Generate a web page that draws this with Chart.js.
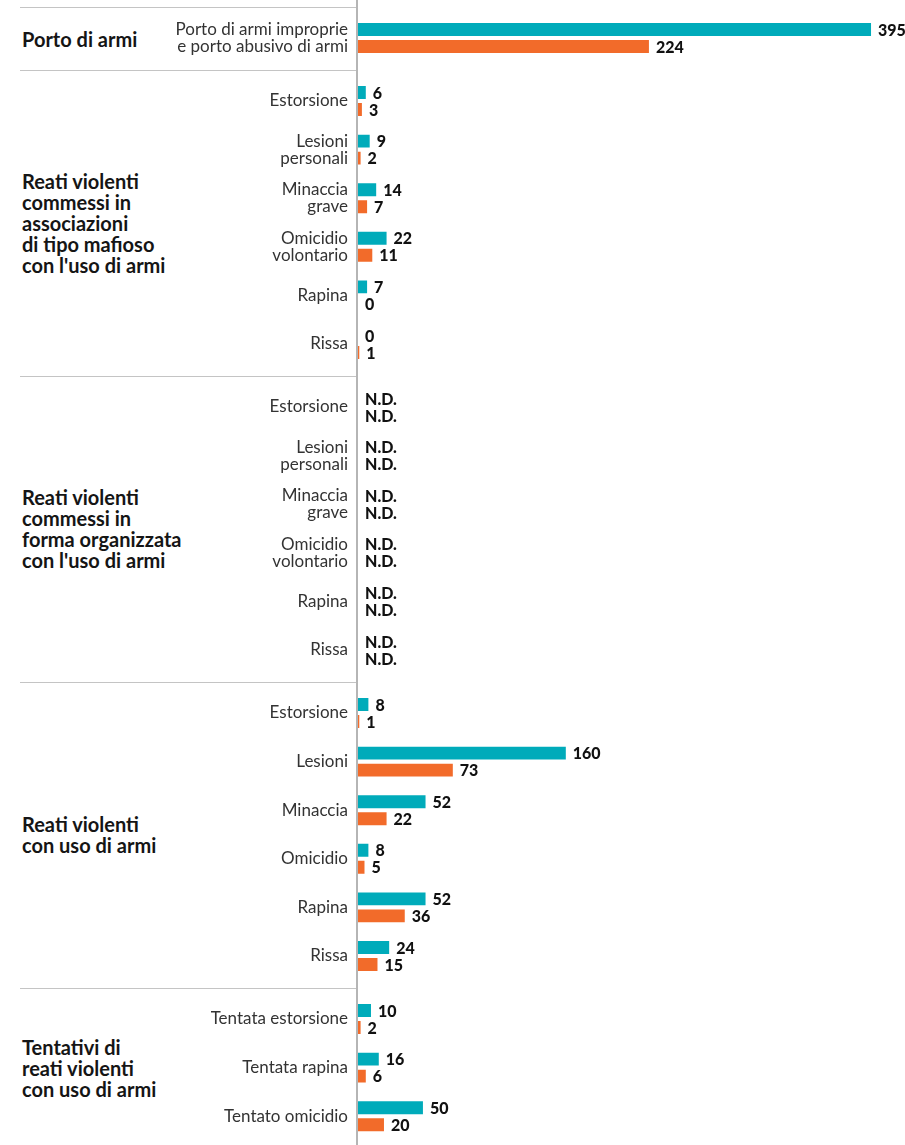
<!DOCTYPE html>
<html><head><meta charset="utf-8">
<script src="https://cdn.jsdelivr.net/npm/chart.js@4.4.1/dist/chart.umd.min.js"></script>
<style>
html,body{margin:0;padding:0;background:#fff;}
body{width:905px;height:1145px;position:relative;overflow:hidden;font-family:Lato,sans-serif;}
canvas{position:absolute;left:0;}
.glabel{position:absolute;left:22px;font-weight:700;font-size:20px;line-height:21px;color:#151515;transform:translateY(-50%);white-space:pre;}
.sep{position:absolute;left:20px;width:337px;height:1px;background:#c4c4c4;}
.axis{position:absolute;left:356px;top:0;width:1.5px;height:1145px;background:#b5b5b5;z-index:2;}
</style></head><body>
<div class="axis"></div>
<script>
// ---- data ----
const groupNames = [
  "Porto di armi",
  "Reati violenti\ncommessi in\nassociazioni\ndi tipo mafioso\ncon l'uso di armi",
  "Reati violenti\ncommessi in\nforma organizzata\ncon l'uso di armi",
  "Reati violenti\ncon uso di armi",
  "Tentativi di\nreati violenti\ncon uso di armi"
];
const categoriesPorto = [["Porto di armi improprie", "e porto abusivo di armi"]];
const serie1Porto = [395];
const serie2Porto = [224];

const categoriesMafia = ["Estorsione", ["Lesioni", "personali"], ["Minaccia", "grave"], ["Omicidio", "volontario"], "Rapina", "Rissa"];
const serie1Mafia = [6, 9, 14, 22, 7, 0];
const serie2Mafia = [3, 2, 7, 11, 0, 1];

const categoriesOrg = ["Estorsione", ["Lesioni", "personali"], ["Minaccia", "grave"], ["Omicidio", "volontario"], "Rapina", "Rissa"];
const serie1Org = [null, null, null, null, null, null];
const serie2Org = [null, null, null, null, null, null];

const categoriesUso = ["Estorsione", "Lesioni", "Minaccia", "Omicidio", "Rapina", "Rissa"];
const serie1Uso = [8, 160, 52, 8, 52, 24];
const serie2Uso = [1, 73, 22, 5, 36, 15];

const categoriesTent = ["Tentata estorsione", "Tentata rapina", "Tentato omicidio"];
const serie1Tent = [10, 16, 50];
const serie2Tent = [2, 6, 20];

const missingLabel = "N.D.";

// ---- layout ----
const TEAL = "#00abba", ORANGE = "#f26b2a";
const ROW = 48.6, PAD_T = 6.7, PAD_B = 7.7, START = 7, XMAX = 420;

const sections = [
  [categoriesPorto, serie1Porto, serie2Porto],
  [categoriesMafia, serie1Mafia, serie2Mafia],
  [categoriesOrg, serie1Org, serie2Org],
  [categoriesUso, serie1Uso, serie2Uso],
  [categoriesTent, serie1Tent, serie2Tent]
];

const valueLabels = {
  id: "valueLabels",
  afterDatasetsDraw(chart) {
    const ctx = chart.ctx;
    ctx.save();
    ctx.font = "900 16px Lato";
    ctx.fillStyle = "#111";
    ctx.textAlign = "left";
    ctx.textBaseline = "middle";
    chart.data.datasets.forEach((ds, di) => {
      const meta = chart.getDatasetMeta(di);
      meta.data.forEach((el, i) => {
        const v = ds.data[i];
        const txt = (v === null || v === undefined) ? missingLabel : String(v);
        ctx.fillText(txt, el.x + 7, el.y + 1);
      });
    });
    ctx.restore();
  }
};

let yPos = START;
sections.forEach((s, gi) => {
  const [cats, a, b] = s;
  const h = cats.length * ROW + PAD_T + PAD_B;
  const sep = document.createElement("div");
  sep.className = "sep"; sep.style.top = (yPos - 0.5) + "px";
  document.body.appendChild(sep);
  const gl = document.createElement("div");
  gl.className = "glabel"; gl.textContent = groupNames[gi];
  gl.style.top = (yPos + h / 2) + "px";
  document.body.appendChild(gl);

  const cv = document.createElement("canvas");
  cv.width = 905; cv.height = Math.round(h);
  cv.style.top = yPos + "px";
  document.body.appendChild(cv);
  new Chart(cv, {
    type: "bar",
    data: {
      labels: cats,
      datasets: [
        { label: "Serie 1", data: a, backgroundColor: TEAL },
        { label: "Serie 2", data: b, backgroundColor: ORANGE }
      ]
    },
    options: {
      indexAxis: "y",
      responsive: false,
      animation: false,
      devicePixelRatio: 1,
      categoryPercentage: 0.70,
      barPercentage: 0.76,
      layout: { padding: { top: PAD_T, bottom: cv.height - PAD_T - cats.length * ROW, left: 0, right: 1.5 } },
      plugins: { legend: { display: false }, tooltip: { enabled: false } },
      scales: {
        x: { min: 0, max: XMAX, display: false },
        y: {
          grid: { display: false, drawTicks: false },
          border: { display: false },
          ticks: { font: { family: "Lato", size: 17, lineHeight: 1.0 }, color: "#333", padding: 10, autoSkip: false },
          afterFit(scale) { scale.width = 358; scale.paddingTop = 0; scale.paddingBottom = 0; }
        }
      }
    },
    plugins: [valueLabels]
  });
  yPos += h;
});
</script>
</body></html>
